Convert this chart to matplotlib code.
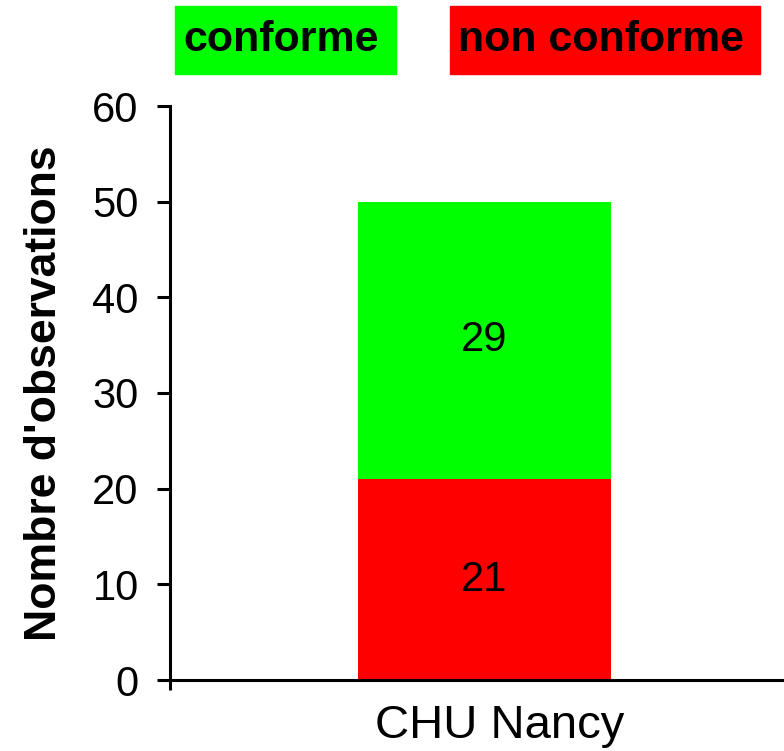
import matplotlib.pyplot as plt
from matplotlib.patches import Rectangle
from matplotlib.transforms import ScaledTranslation

plt.rcParams['font.family'] = ['Liberation Sans', 'DejaVu Sans']

# données
categories = ['CHU Nancy']
non_conforme = [21]
conforme = [29]
noms_series = ['conforme', 'non conforme']
couleurs = ['#00ff00', '#ff0000']

W, H = 784, 751
fig = plt.figure(figsize=(W / 100, H / 100), dpi=100)
ax = fig.add_axes([170 / W, 1 - 680 / H, (W - 170) / W, (680 - 106) / H])

x = list(range(len(categories)))
largeur = 0.5
b1 = ax.bar(x, non_conforme, width=largeur, color=couleurs[1])
b2 = ax.bar(x, conforme, width=largeur, bottom=non_conforme, color=couleurs[0])
for barres in (b1, b2):
    ax.bar_label(barres, label_type='center', fontsize=30)

ax.set_ylim(0, 60)
ax.set_yticks(range(0, 61, 10))
ax.set_xlim(-(484.5 - 170) * largeur / 253, (784 - 484.5) * largeur / 253)
ax.set_xticks(x)
ax.set_xticklabels(categories, fontsize=34)
ax.tick_params(axis='x', length=0, pad=17)
# le libellé est un peu décalé à droite dans l'original
for lab in ax.get_xticklabels():
    lab.set_transform(lab.get_transform() + ScaledTranslation(0.15, 0, fig.dpi_scale_trans))
ax.set_xticks([ax.get_xlim()[0]], minor=True)
ax.tick_params(axis='x', which='minor', length=7, width=2.2, direction='out')
ax.tick_params(axis='y', labelsize=30, length=9.5, width=2.2, pad=13)

for s in ['top', 'right']:
    ax.spines[s].set_visible(False)
for s in ['left', 'bottom']:
    ax.spines[s].set_linewidth(2.2)

ax.set_ylabel("Nombre d'observations", fontsize=32, fontweight='bold', labelpad=20)

# légende en haut
boites = [(175, 396), (450, 760)]
for nom, c, (x0, x1) in zip(noms_series, couleurs, boites):
    fig.patches.append(Rectangle((x0 / W, 1 - 74 / H), (x1 - x0) / W, 68 / H,
                                 transform=fig.transFigure, color=c))
    fig.text((x0 + 8) / W, 1 - 40 / H, nom, fontsize=31, fontweight='bold',
             va='center', ha='left')

fig.savefig('out.png', dpi=100)
